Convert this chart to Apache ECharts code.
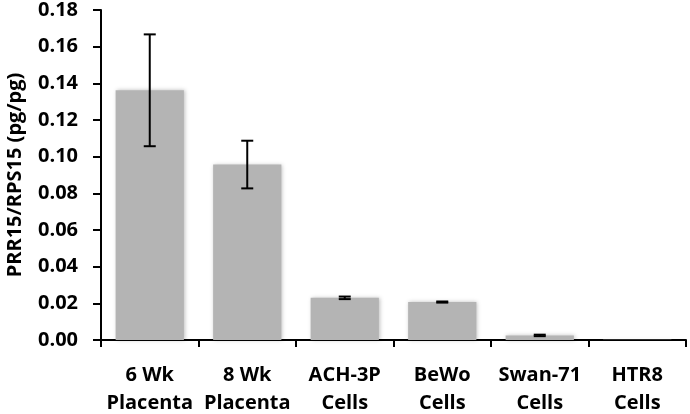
<!DOCTYPE html>
<html><head><meta charset="utf-8">
<script src="https://cdn.jsdelivr.net/npm/echarts@6/dist/echarts.min.js"></script>
<style>html,body{margin:0;padding:0;background:#fff}#c{width:690px;height:414px}</style>
</head><body><div id="c"></div>
<script>
const categories = ['6 Wk\nPlacenta', '8 Wk\nPlacenta', 'ACH-3P\nCells', 'BeWo\nCells', 'Swan-71\nCells', 'HTR8\nCells'];
const values = [0.1362, 0.0957, 0.0230, 0.0207, 0.0025, 0.0001];
const errors = [0.0305, 0.0130, 0.0007, 0.0003, 0.0004, 0.0000];
const yTicks = { min: 0, max: 0.18, interval: 0.02 };
const FONT = 'Open Sans';

const chart = echarts.init(document.getElementById('c'));
chart.setOption({
  animation: false,
  grid: { left: 101, right: 4, top: 10, bottom: 74, containLabel: false, outerBoundsMode: 'none' },
  xAxis: {
    type: 'category', data: categories,
    axisLine: { lineStyle: { color: '#000', width: 2 } },
    axisTick: { show: true, length: 7, lineStyle: { color: '#000', width: 2 } },
    axisLabel: { interval: 0, color: '#000', fontFamily: FONT, fontWeight: 'bold', fontSize: 20, lineHeight: 28, margin: 21 }
  },
  yAxis: {
    type: 'value', min: yTicks.min, max: yTicks.max, interval: yTicks.interval,
    name: 'PRR15/RPS15 (pg/pg)', nameLocation: 'middle', nameGap: 76, nameRotate: 90,
    nameTextStyle: { color: '#000', fontFamily: FONT, fontWeight: 'bold', fontSize: 20 },
    axisLine: { show: true, lineStyle: { color: '#000', width: 2 } },
    axisTick: { show: true, length: 8, lineStyle: { color: '#000', width: 2 } },
    splitLine: { show: false },
    axisLabel: { color: '#000', fontFamily: FONT, fontWeight: 'bold', fontSize: 20, margin: 23,
      formatter: v => v.toFixed(2) }
  },
  series: [
    {
      type: 'bar', data: values, barWidth: '70%',
      itemStyle: { color: '#b4b4b4', shadowColor: 'rgba(0,0,0,0.25)', shadowBlur: 4, shadowOffsetX: 1, shadowOffsetY: 0 }
    },
    {
      type: 'custom',
      data: values.map((v, i) => [i, v - errors[i], v + errors[i]]),
      renderItem: function (params, api) {
        if (errors[params.dataIndex] <= 0) return null;
        const lo = api.coord([api.value(0), api.value(1)]);
        const hi = api.coord([api.value(0), api.value(2)]);
        const hw = 6;
        const style = { stroke: '#000', lineWidth: 2 };
        return {
          type: 'group', children: [
            { type: 'line', shape: { x1: lo[0], y1: lo[1], x2: hi[0], y2: hi[1] }, style },
            { type: 'line', shape: { x1: lo[0] - hw, y1: lo[1], x2: lo[0] + hw, y2: lo[1] }, style },
            { type: 'line', shape: { x1: hi[0] - hw, y1: hi[1], x2: hi[0] + hw, y2: hi[1] }, style }
          ]
        };
      },
      z: 10
    }
  ]
});
</script></body></html>
